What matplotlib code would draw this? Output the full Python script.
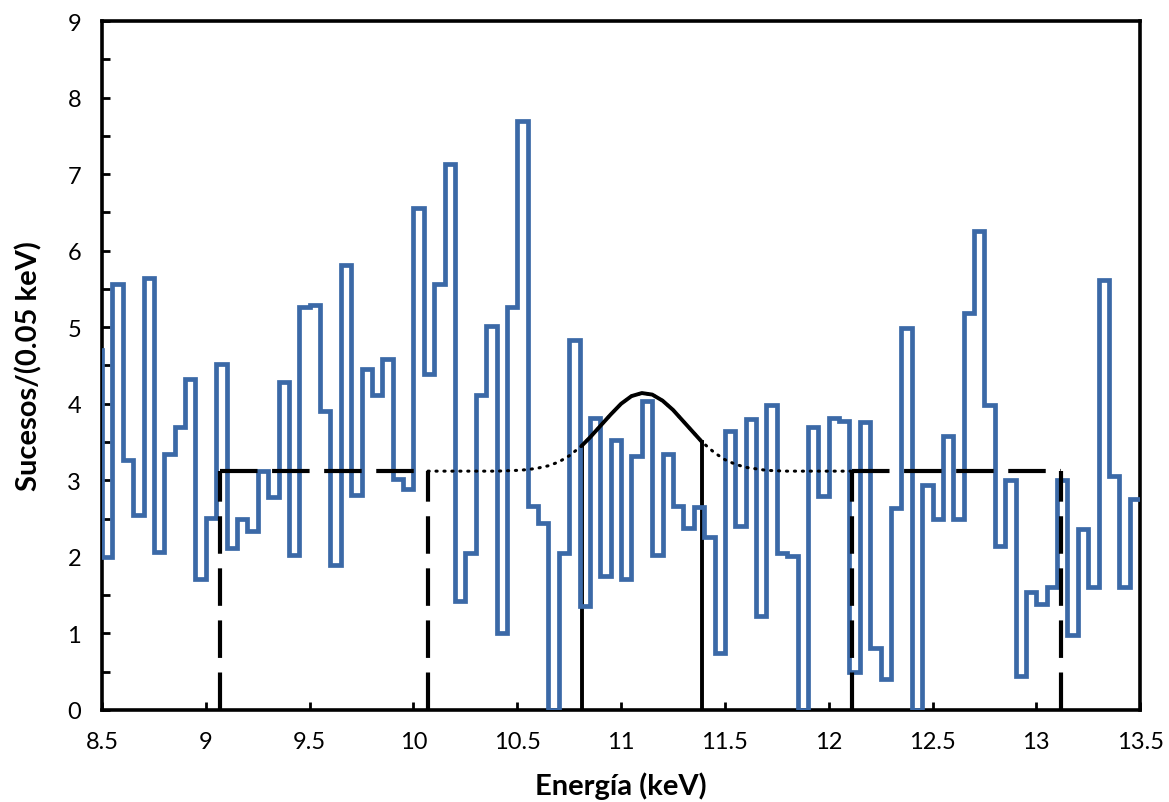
import matplotlib
matplotlib.use('Agg')
import matplotlib.pyplot as plt
import numpy as np

# histogram: counts per 0.05 keV bin, first bin starts at 8.45 (clipped)
bin_start = 8.45
bin_width = 0.05
counts = [
    4.70, 2.00, 5.56, 3.26, 2.55, 5.64, 2.06, 3.34, 3.69, 4.32, 1.71,
    2.51, 4.52, 2.12, 2.49, 2.34, 3.12, 2.78, 4.28, 2.02, 5.27,
    5.29, 3.90, 1.90, 5.81, 2.81, 4.45, 4.12, 4.59, 3.02, 2.89,
    6.56, 4.39, 5.56, 7.13, 1.43, 2.05, 4.12, 5.01, 1.01, 5.27,
    7.70, 2.66, 2.44, 0.00, 2.05, 4.83, 1.36, 3.82, 1.75, 3.53,
    1.71, 3.32, 4.03, 2.02, 3.35, 2.66, 2.38, 2.65, 2.26, 0.75,
    3.65, 2.40, 3.80, 1.23, 3.99, 2.05, 2.01, 0.00, 3.69, 2.80,
    3.81, 3.77, 0.50, 3.76, 0.81, 0.40, 2.64, 4.99, 0.00, 2.94,
    2.50, 3.58, 2.50, 5.18, 6.26, 3.98, 2.14, 3.01, 0.45, 1.54,
    1.38, 1.60, 3.01, 0.98, 2.37, 1.61, 5.62, 3.06, 1.61, 2.75,
]

# flat background level and side bands
background = 3.12
left_band = [9.07, 10.07]
right_band = [12.11, 13.12]
signal_window = [10.81, 11.39]

# fitted peak curve
curve_x = [10.07, 10.40, 10.50, 10.55, 10.60, 10.65, 10.70, 10.75, 10.81,
           10.85, 10.90, 10.95, 11.00, 11.05, 11.10, 11.15, 11.20, 11.25,
           11.30, 11.35, 11.39, 11.45, 11.50, 11.55, 11.60, 11.65, 11.70,
           11.80, 12.11]
curve_y = [3.12, 3.12, 3.13, 3.14, 3.16, 3.19, 3.24, 3.32, 3.45,
           3.56, 3.71, 3.86, 4.00, 4.10, 4.14, 4.12, 4.04, 3.92,
           3.77, 3.62, 3.50, 3.36, 3.27, 3.21, 3.17, 3.15, 3.13,
           3.12, 3.12]

x_ticks = [8.5, 9, 9.5, 10, 10.5, 11, 11.5, 12, 12.5, 13, 13.5]
x_tick_labels = ['8.5', '9', '9.5', '10', '10.5', '11', '11.5', '12',
                 '12.5', '13', '13.5']
y_ticks = [0, 1, 2, 3, 4, 5, 6, 7, 8, 9]

plt.rcParams['font.family'] = ['Lato', 'DejaVu Sans']

fig = plt.figure(figsize=(11.69, 8.03), dpi=100)
ax = fig.add_axes([0.0873, 0.1146, 0.8880, 0.8580])

edges = bin_start + bin_width * np.arange(len(counts) + 1)
ax.stairs(counts, edges, baseline=None, color='#3b69a7', lw=3.4,
          zorder=3)

cx = np.array(curve_x)
cy = np.array(curve_y)
inside = (cx >= signal_window[0]) & (cx <= signal_window[1])
ax.plot(cx, cy, color='black', lw=2.2, ls=(0, (0.4, 2.2)),
        dash_capstyle='round', zorder=4)
ax.plot(cx[inside], cy[inside], color='black', lw=2.8, zorder=4,
        solid_capstyle='round')

# signal window edges (solid)
for xv in signal_window:
    top = cy[np.argmin(np.abs(cx - xv))]
    ax.plot([xv, xv], [0, top], color='black', lw=2.8, zorder=2)

# side bands (long dashes)
dash = (0, (9, 3.5))
for band in (left_band, right_band):
    ax.plot(band, [background, background], color='black', lw=3.0,
            ls=dash, zorder=4)
    for xv in band:
        ax.plot([xv, xv], [0, background], color='black', lw=3.0,
                ls=dash, zorder=4)

ax.set_xlim(8.5, 13.5)
ax.set_ylim(0, 9)
ax.set_xticks(x_ticks)
ax.set_xticklabels(x_tick_labels)
ax.set_yticks(y_ticks)
ax.set_yticks(np.arange(0.5, 9, 1.0), minor=True)
ax.tick_params(axis='both', which='both', direction='in', width=2,
               labelsize=17, color='black')
ax.tick_params(axis='both', which='major', length=6, pad=15)
ax.tick_params(axis='y', which='minor', length=6)

for s in ax.spines.values():
    s.set_linewidth(2.6)
    s.set_color('black')

ax.set_xlabel('Energía (keV)', fontsize=21, fontweight='bold', labelpad=14)
ax.set_ylabel('Sucesos/(0.05 keV)', fontsize=21, fontweight='bold',
              labelpad=18)

fig.savefig('out.png', dpi=100)
